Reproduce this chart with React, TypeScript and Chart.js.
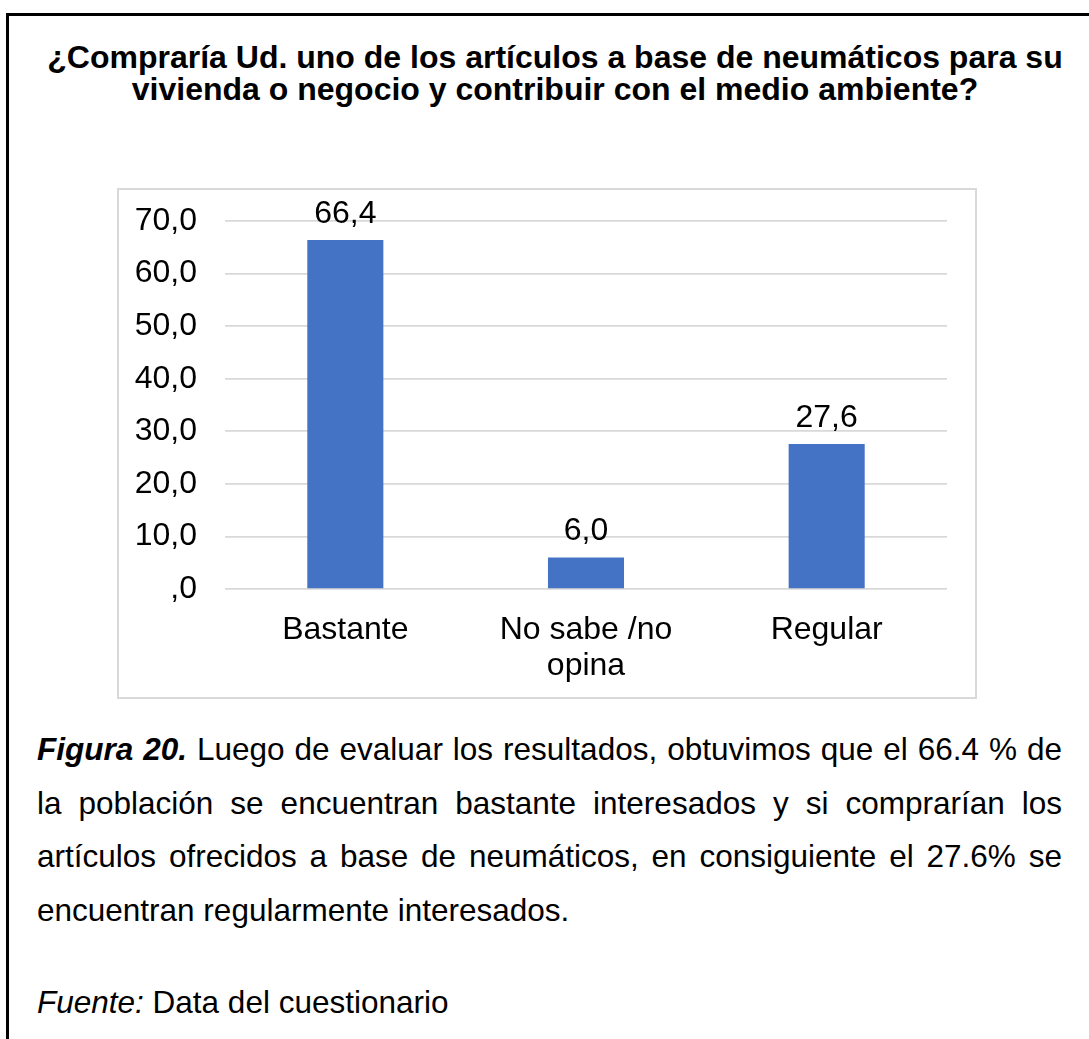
import React, { useEffect, useRef } from "react";
import { Chart, registerables } from "chart.js";

Chart.register(...registerables);

const FONT = '"Liberation Sans", Arial, Helvetica, sans-serif';

const categories: (string | string[])[] = ["Bastante", ["No sabe /no", "opina"], "Regular"];
const values: number[] = [66.4, 6.0, 27.6];
const yTickLabels: string[] = [",0", "10,0", "20,0", "30,0", "40,0", "50,0", "60,0", "70,0"];
const titleLines: string[] = [
  "¿Compraría Ud. uno de los artículos a base de neumáticos para su",
  "vivienda o negocio y contribuir con el medio ambiente?",
];
const captionLead = "Figura 20.";
const captionLines: string[] = [
  " Luego de evaluar los resultados, obtuvimos que el 66.4 % de",
  "la población se encuentran bastante interesados y si comprarían los",
  "artículos ofrecidos a base de neumáticos, en consiguiente el 27.6% se",
  "encuentran regularmente interesados.",
];
const sourceLead = "Fuente:";
const sourceText = " Data del cuestionario";

export default function App() {
  const ref = useRef<HTMLCanvasElement>(null);

  useEffect(() => {
    if (!ref.current) return;
    const labelPlugin = {
      id: "barLabels",
      afterDatasetsDraw(chart: any) {
        const ctx = chart.ctx;
        const meta = chart.getDatasetMeta(0);
        ctx.save();
        ctx.font = `32px ${FONT}`;
        ctx.fillStyle = "#000";
        ctx.textAlign = "center";
        ctx.textBaseline = "alphabetic";
        meta.data.forEach((el: any, i: number) => {
          ctx.fillText(values[i].toFixed(1).replace(".", ","), el.x, el.y - 17);
        });
        ctx.restore();
      },
    };
    const chart = new Chart(ref.current, {
      type: "bar",
      data: {
        labels: categories,
        datasets: [
          {
            data: values,
            backgroundColor: "#4472C4",
            barPercentage: 0.316,
            categoryPercentage: 1,
          },
        ],
      },
      options: {
        animation: false,
        responsive: false,
        maintainAspectRatio: false,
        layout: { padding: { top: 33, right: 30, left: 0, bottom: 0 } },
        plugins: {
          legend: { display: false },
          tooltip: { enabled: false },
          title: { display: false },
        },
        scales: {
          x: {
            grid: { display: false, drawTicks: false },
            border: { display: false },
            ticks: {
              color: "#000",
              font: { family: FONT, size: 32, lineHeight: 1.12 },
              padding: 23,
              maxRotation: 0,
              autoSkip: false,
            },
            afterFit: (s: any) => {
              s.height = 110;
              s.paddingLeft = 0;
              s.paddingRight = 0;
            },
          },
          y: {
            min: 0,
            max: 70,
            grid: { color: "#d9d9d9", lineWidth: 1.75, drawTicks: false },
            border: { display: false },
            ticks: {
              stepSize: 10,
              color: "#000",
              font: { family: FONT, size: 32 },
              padding: 28,
              callback: (_v: any, i: number) => yTickLabels[i],
            },
            afterFit: (s: any) => {
              s.width = 108;
              s.paddingTop = 0;
              s.paddingBottom = 0;
            },
          },
        },
      },
      plugins: [labelPlugin],
    } as any);
    return () => chart.destroy();
  }, []);

  return (
    <div
      style={{
        position: "absolute",
        left: 0,
        top: 0,
        width: 1089,
        height: 1039,
        background: "#fff",
        overflow: "hidden",
        fontFamily: FONT,
        color: "#000",
      }}
    >
      <div
        style={{
          position: "absolute",
          left: 6,
          top: 13,
          width: 1200,
          height: 1100,
          borderTop: "3px solid #000",
          borderLeft: "3px solid #000",
        }}
      />
      <div
        style={{
          position: "absolute",
          left: 0,
          top: 41,
          width: 1110,
          textAlign: "center",
          fontWeight: "bold",
          fontSize: 32,
          lineHeight: "32px",
        }}
      >
        {titleLines.map((l, i) => (
          <div key={i}>{l}</div>
        ))}
      </div>
      <div
        style={{
          position: "absolute",
          left: 117,
          top: 188,
          width: 860,
          height: 511,
          boxSizing: "border-box",
          border: "2px solid #d9d9d9",
        }}
      />
      <canvas
        ref={ref}
        width={860}
        height={511}
        style={{ position: "absolute", left: 117, top: 188, width: 860, height: 511 }}
      />
      <div
        style={{
          position: "absolute",
          left: 37,
          top: 723,
          width: 1025,
          fontSize: 31.5,
          lineHeight: "53.5px",
        }}
      >
        {captionLines.map((l, i) => (
          <div
            key={i}
            style={{
              textAlign: i < captionLines.length - 1 ? "justify" : "left",
              textAlignLast: i < captionLines.length - 1 ? "justify" : "left",
            } as any}
          >
            {i === 0 ? (
              <span style={{ fontWeight: "bold", fontStyle: "italic" }}>{captionLead}</span>
            ) : null}
            {l}
          </div>
        ))}
      </div>
      <div
        style={{
          position: "absolute",
          left: 37,
          top: 984,
          fontSize: 31.5,
          lineHeight: "36px",
          whiteSpace: "nowrap",
        }}
      >
        <span style={{ fontStyle: "italic" }}>{sourceLead}</span>
        {sourceText}
      </div>
    </div>
  );
}
